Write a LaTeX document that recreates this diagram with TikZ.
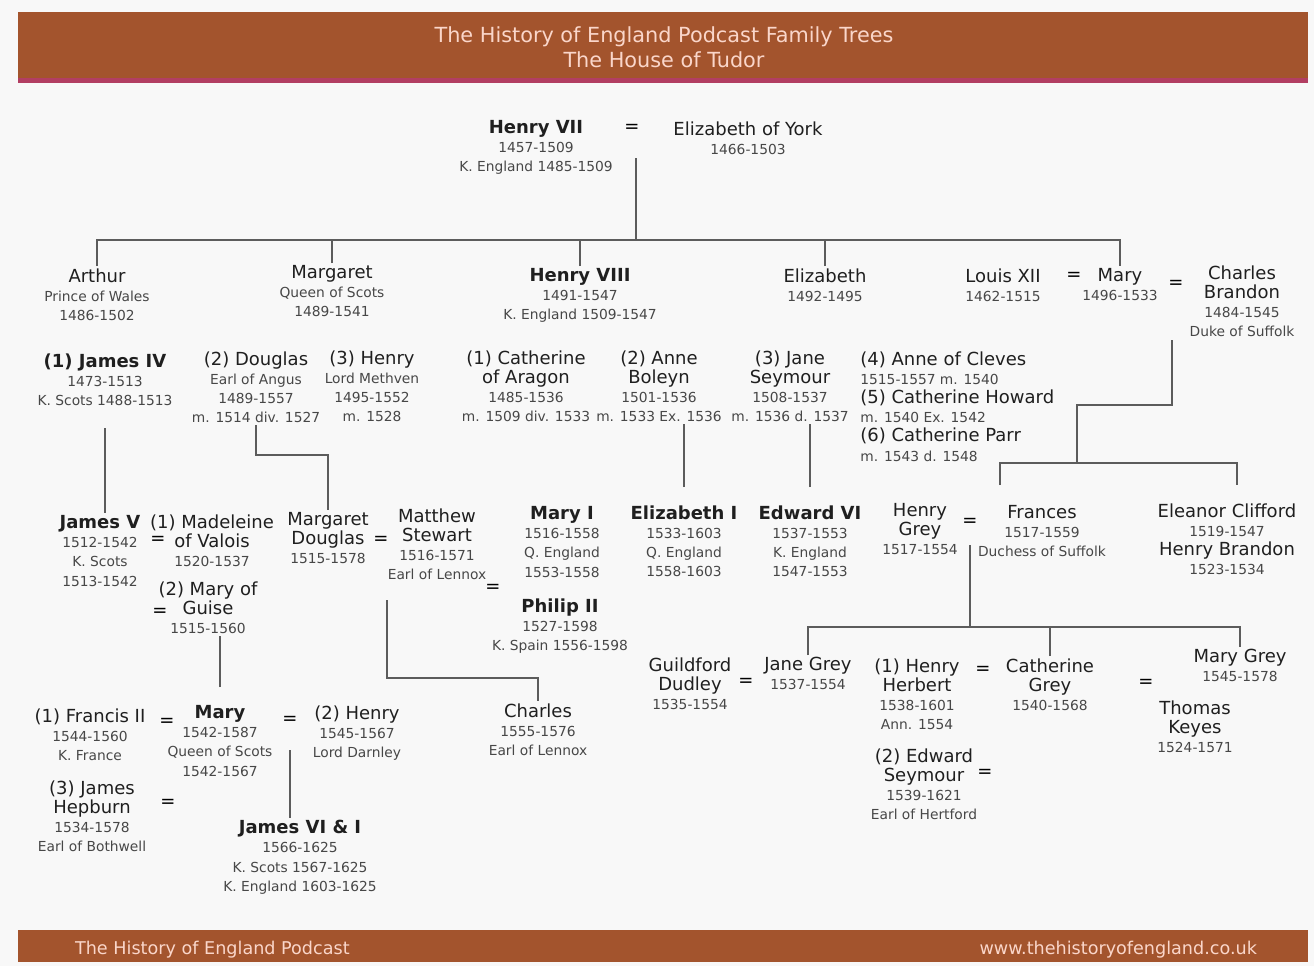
\documentclass[tikz,border=0pt]{standalone}
\usepackage{fontspec}
\setmainfont{DejaVu Sans}
\usepackage{tikz}

\definecolor{bandbrown}{RGB}{163,84,45}
\definecolor{bandpink}{RGB}{178,62,98}
\definecolor{bandtext}{RGB}{250,214,202}
\definecolor{paper}{RGB}{248,248,248}
\definecolor{tieline}{RGB}{92,92,92}

\newcommand{\yrs}[1]{{\fontsize{6.9}{9}\selectfont\color{black!72}#1}}

\begin{document}
\begin{tikzpicture}[x=0.5pt,y=-0.5pt,
    person/.style={anchor=north, align=center, inner sep=1pt, text=black!88,
      font=\fontsize{9}{9.6}\selectfont},
    eq/.style={inner sep=1pt, font=\fontsize{9}{10}\selectfont},
    tie/.style={draw=tieline, line width=1pt},
    band/.style={text=bandtext, font=\fontsize{10.4}{12.5}\selectfont, align=center}]
        \useasboundingbox (0,0) rectangle (1314,966);
        \fill[paper] (0,0) rectangle (1314,966);

        % header and footer
        \fill[bandbrown] (18,12) rectangle (1308,78);
        \fill[bandpink] (18,78) rectangle (1308,83);
        \node[band] (title) at (664,47) {The History of England Podcast Family Trees\\The House of Tudor};
        \fill[bandbrown] (18,930) rectangle (1308,962);
        \node[band, anchor=west, font=\fontsize{8.8}{9}\selectfont] (podcast) at (68,950) {The History of England Podcast};
        \node[band, anchor=east, font=\fontsize{8.8}{9}\selectfont] (website) at (1264,950) {www.thehistoryofengland.co.uk};

        % Henry VII and children
        \node[person] (h7) at (536,118) {\textbf{Henry VII}\\\yrs{1457-1509}\\\yrs{K. England 1485-1509}};
        \node[eq] (e1) at (632,128) {=};
        \node[person] (eoy) at (748,119) {Elizabeth of York\\\yrs{1466-1503}};
        \coordinate (t0) at (636,158);
        \coordinate (tbar) at (636,240);

        \node[person] (arthur) at (97,266) {Arthur\\\yrs{Prince of Wales}\\\yrs{1486-1502}};
        \node[person] (margaret) at (332,263) {Margaret\\\yrs{Queen of Scots}\\\yrs{1489-1541}};
        \node[person] (h8) at (580,266) {\textbf{Henry VIII}\\\yrs{1491-1547}\\\yrs{K. England 1509-1547}};
        \node[person] (eliz) at (825,266) {Elizabeth\\\yrs{1492-1495}};
        \node[person] (louis) at (1003,266) {Louis XII\\\yrs{1462-1515}};
        \node[eq] (e2) at (1074,276) {=};
        \node[person] (mary) at (1120,266) {Mary\\\yrs{1496-1533}};
        \node[eq] (e3) at (1176,284) {=};
        \node[person] (brandon) at (1242,263) {Charles\\Brandon\\\yrs{1484-1545}\\\yrs{Duke of Suffolk}};

        \draw[tie] (t0) -- (tbar);
        \draw[tie] (arthur.north) |- (tbar) -| (mary.north);
        \draw[tie] (margaret.north) -- (margaret.north |- tbar);
        \draw[tie] (h8.north) -- (h8.north |- tbar);
        \draw[tie] (eliz.north) -- (eliz.north |- tbar);

        % marriages of the second generation
        \node[person] (j4) at (105,351) {\textbf{(1) James IV}\\\yrs{1473-1513}\\\yrs{K. Scots 1488-1513}};
        \node[person] (angus) at (256,349) {(2) Douglas\\\yrs{Earl of Angus}\\\yrs{1489-1557}\\\yrs{m. 1514 div. 1527}};
        \node[person] (methven) at (372,348) {(3) Henry\\\yrs{Lord Methven}\\\yrs{1495-1552}\\\yrs{m. 1528}};
        \node[person] (aragon) at (526,348) {(1) Catherine\\of Aragon\\\yrs{1485-1536}\\\yrs{m. 1509 div. 1533}};
        \node[person] (boleyn) at (659,348) {(2) Anne\\Boleyn\\\yrs{1501-1536}\\\yrs{m. 1533 Ex. 1536}};
        \node[person] (seymour) at (790,348) {(3) Jane\\Seymour\\\yrs{1508-1537}\\\yrs{m. 1536 d. 1537}};
        \node[person, anchor=north west, align=left] (later) at (858,349) {(4) Anne of Cleves\\\yrs{1515-1557 m. 1540}\\(5) Catherine Howard\\\yrs{m. 1540 Ex. 1542}\\(6) Catherine Parr\\\yrs{m. 1543 d. 1548}};

        % third generation
        \node[person] (j5) at (100,513) {\textbf{James V}\\\yrs{1512-1542}\\\yrs{K. Scots}\\\yrs{1513-1542}};
        \node[eq] (e4) at (158,540) {=};
        \node[person] (valois) at (212,512) {(1) Madeleine\\of Valois\\\yrs{1520-1537}};
        \node[eq] (e5) at (160,612) {=};
        \node[person] (guise) at (208,579) {(2) Mary of\\Guise\\\yrs{1515-1560}};
        \node[person] (mdouglas) at (328,510) {Margaret\\Douglas\\\yrs{1515-1578}};
        \node[eq] (e6) at (381,540) {=};
        \node[person] (lennox) at (437,506) {Matthew\\Stewart\\\yrs{1516-1571}\\\yrs{Earl of Lennox}};
        \node[person] (mary1) at (562,504) {\textbf{Mary I}\\\yrs{1516-1558}\\\yrs{Q. England}\\\yrs{1553-1558}};
        \node[eq] (e7) at (493,588) {=};
        \node[person] (philip) at (560,596) {\textbf{Philip II}\\\yrs{1527-1598}\\\yrs{K. Spain 1556-1598}};
        \node[person] (eliz1) at (684,503) {\textbf{Elizabeth I}\\\yrs{1533-1603}\\\yrs{Q. England}\\\yrs{1558-1603}};
        \node[person] (ed6) at (810,503) {\textbf{Edward VI}\\\yrs{1537-1553}\\\yrs{K. England}\\\yrs{1547-1553}};
        \node[person] (hgrey) at (920,501) {Henry\\Grey\\\yrs{1517-1554}};
        \node[eq] (e8) at (970,522) {=};
        \node[person] (frances) at (1042,503) {Frances\\\yrs{1517-1559}\\\yrs{Duchess of Suffolk}};
        \node[person] (eleanor) at (1227,501) {Eleanor Clifford\\\yrs{1519-1547}\\Henry Brandon\\\yrs{1523-1534}};

        \draw[tie, shorten <=10pt] (j4.south) -- (j4.south |- j5.north);
        \coordinate (a1) at (290,455);
        \draw[tie] (angus.south) |- (a1) -| (mdouglas.north);
        \draw[tie, shorten <=8pt] (eliz1.north) -- (eliz1.north |- boleyn.south);
        \draw[tie, shorten <=8pt] (ed6.north) -- (ed6.north |- seymour.south);
        \coordinate (b0) at (1172,340);
        \coordinate (b1) at (1120,405);
        \coordinate (brbar) at (1077,463);
        \coordinate (fdrop) at (1000,485);
        \coordinate (edrop) at (1237,485);
        \draw[tie] (b0) |- (b1) -| (brbar);
        \draw[tie] (fdrop) |- (brbar) -| (edrop);

        % fourth generation
        \node[person] (francis) at (90,706) {(1) Francis II\\\yrs{1544-1560}\\\yrs{K. France}};
        \node[eq] (e9) at (167,722) {=};
        \node[person] (mqos) at (220,703) {\textbf{Mary}\\\yrs{1542-1587}\\\yrs{Queen of Scots}\\\yrs{1542-1567}};
        \node[eq] (e10) at (290,720) {=};
        \node[person] (darnley) at (357,703) {(2) Henry\\\yrs{1545-1567}\\\yrs{Lord Darnley}};
        \node[person] (charles) at (538,701) {Charles\\\yrs{1555-1576}\\\yrs{Earl of Lennox}};
        \node[person] (bothwell) at (92,778) {(3) James\\Hepburn\\\yrs{1534-1578}\\\yrs{Earl of Bothwell}};
        \node[eq] (e11) at (168,803) {=};
        \node[person] (j6) at (300,818) {\textbf{James VI \& I}\\\yrs{1566-1625}\\\yrs{K. Scots 1567-1625}\\\yrs{K. England 1603-1625}};

        \node[person] (dudley) at (690,655) {Guildford\\Dudley\\\yrs{1535-1554}};
        \node[eq] (e12) at (746,682) {=};
        \node[person] (jgrey) at (808,655) {Jane Grey\\\yrs{1537-1554}};
        \node[person] (herbert) at (917,656) {(1) Henry\\Herbert\\\yrs{1538-1601}\\\yrs{Ann. 1554}};
        \node[eq] (e13) at (983,670) {=};
        \node[person] (cgrey) at (1050,656) {Catherine\\Grey\\\yrs{1540-1568}};
        \node[eq] (e14) at (985,773) {=};
        \node[person] (hertford) at (924,746) {(2) Edward\\Seymour\\\yrs{1539-1621}\\\yrs{Earl of Hertford}};
        \node[person] (mgrey) at (1240,647) {Mary Grey\\\yrs{1545-1578}};
        \node[eq] (e15) at (1146,683) {=};
        \node[person] (keyes) at (1195,698) {Thomas\\Keyes\\\yrs{1524-1571}};

        \draw[tie, shorten <=8pt] (mqos.north) -- (mqos.north |- guise.south);
        \coordinate (dl0) at (387,600);
        \coordinate (dlbar) at (387,678);
        \draw[tie] (dl0) -- (dlbar) -| (charles.north);
        \coordinate (m0) at (290,750);
        \draw[tie] (m0) -- (m0 |- j6.north);
        \coordinate (g0) at (970,545);
        \coordinate (gbar) at (970,627);
        \draw[tie] (g0) -- (gbar);
        \draw[tie] (jgrey.north) |- (gbar) -| (mgrey.north);
        \draw[tie] (cgrey.north) -- (cgrey.north |- gbar);
      \end{tikzpicture}
\end{document}
